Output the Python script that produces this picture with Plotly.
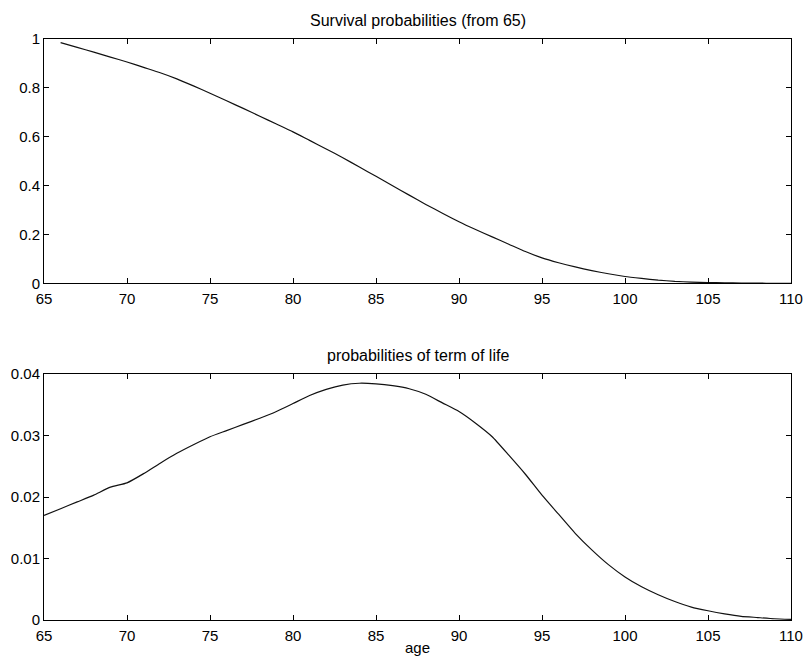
import plotly.graph_objects as go
from plotly.subplots import make_subplots

ages_surv = list(range(66, 111))
survival = [0.985, 0.966, 0.946, 0.926, 0.906, 0.884, 0.862, 0.837, 0.808, 0.778,
            0.747, 0.716, 0.684, 0.652, 0.620, 0.585, 0.550, 0.514, 0.476, 0.438,
            0.399, 0.361, 0.323, 0.287, 0.252, 0.220, 0.190, 0.160, 0.130, 0.104,
            0.084, 0.067, 0.052, 0.039, 0.028, 0.020, 0.013, 0.008, 0.005, 0.003,
            0.002, 0.001, 0.0005, 0.0002, 0.0]

ages_term = list(range(65, 111))
term = [0.0170, 0.0181, 0.0192, 0.0203, 0.0216, 0.0223, 0.0238, 0.0255, 0.0271, 0.0285,
        0.0298, 0.0308, 0.0318, 0.0328, 0.0339, 0.0352, 0.0365, 0.0375, 0.0382, 0.0385,
        0.0384, 0.0381, 0.0376, 0.0367, 0.0353, 0.0339, 0.0320, 0.0298, 0.0268, 0.0237,
        0.0203, 0.0172, 0.0141, 0.0114, 0.0090, 0.0070, 0.0054, 0.0041, 0.0030, 0.0021,
        0.0015, 0.0010, 0.0006, 0.0004, 0.0002, 0.0001]

x_ticks = list(range(65, 111, 5))
top_ticks = [0, 0.2, 0.4, 0.6, 0.8, 1]
top_labels = ["0", "0.2", "0.4", "0.6", "0.8", "1"]
bot_ticks = [0, 0.01, 0.02, 0.03, 0.04]
bot_labels = ["0", "0.01", "0.02", "0.03", "0.04"]

fig = make_subplots(rows=2, cols=1)
fig.add_trace(go.Scatter(x=ages_surv, y=survival, mode="lines",
                         line=dict(color="#111111", width=1.2, shape="spline", smoothing=0.5),
                         showlegend=False), row=1, col=1)
fig.add_trace(go.Scatter(x=ages_term, y=term, mode="lines",
                         line=dict(color="#111111", width=1.2, shape="spline", smoothing=0.5),
                         showlegend=False), row=2, col=1)

axis_common = dict(showline=True, linecolor="black", linewidth=1, mirror="allticks",
                   ticks="inside", ticklen=5, tickcolor="black", showgrid=False,
                   zeroline=False, automargin=False,
                   tickfont=dict(size=15, color="black"))

fig.update_xaxes(range=[65, 110], tickvals=x_ticks, ticklabelstandoff=2, **axis_common)
fig.update_yaxes(**axis_common)
fig.update_yaxes(range=[0, 1], tickvals=top_ticks, ticktext=top_labels, row=1, col=1)
fig.update_yaxes(range=[0, 0.04], tickvals=bot_ticks, ticktext=bot_labels, row=2, col=1)

fig.update_layout(
    width=805, height=663,
    margin=dict(l=44, r=14, t=39, b=43),
    paper_bgcolor="white", plot_bgcolor="white",
    font=dict(family="Liberation Sans, Arial, sans-serif", color="black", size=15),
    xaxis=dict(domain=[0, 1]),
    yaxis=dict(domain=[0.5795, 1]),
    yaxis2=dict(domain=[0, 0.4234]),
    annotations=[
        dict(text="Survival probabilities (from 65)", x=0.5, y=1, xref="paper", yref="paper",
             xanchor="center", yanchor="bottom", yshift=8, showarrow=False, font=dict(size=16)),
        dict(text="probabilities of term of life", x=0.5, y=0.4234, xref="paper", yref="paper",
             xanchor="center", yanchor="bottom", yshift=8, showarrow=False, font=dict(size=16)),
        dict(text="age", x=0.5, y=0, xref="paper", yref="paper",
             xanchor="center", yanchor="top", yshift=-17, showarrow=False, font=dict(size=15)),
    ],
)

fig.write_html("out.html", config={"displayModeBar": False},
               post_script="document.body.style.margin='0';document.body.style.overflow='hidden';")
